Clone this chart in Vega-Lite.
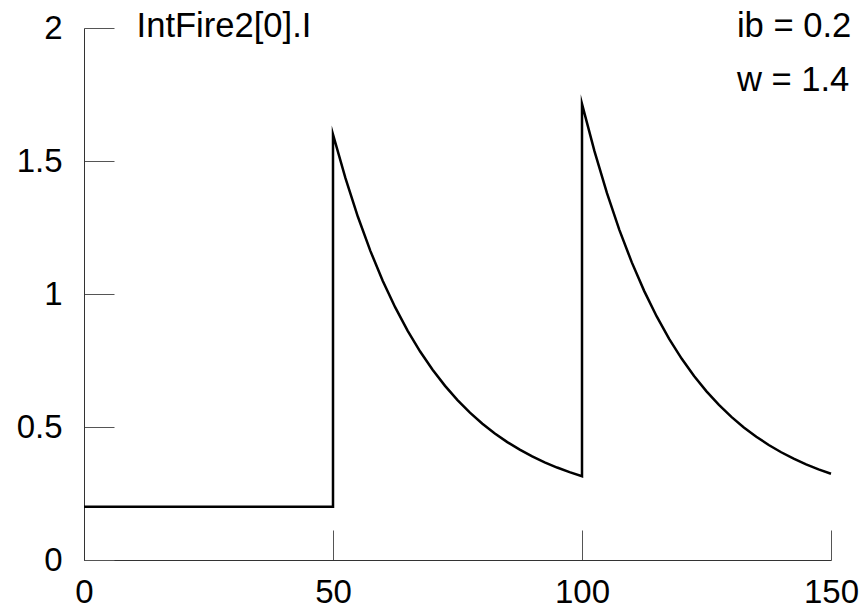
{
  "$schema": "https://vega.github.io/schema/vega-lite/v6.json",
  "autosize": "none",
  "width": 747,
  "height": 532,
  "padding": {"left": 84, "top": 28, "right": 33, "bottom": 56},
  "background": "white",
  "config": {
    "view": {"stroke": null},
    "font": "Liberation Sans",
    "axis": {
      "grid": false,
      "domainColor": "#333333",
      "domainWidth": 1,
      "tickColor": "#555555",
      "tickWidth": 1,
      "tickSize": -30,
      "labelFont": "Liberation Sans",
      "labelFontSize": 33,
      "labelColor": "black",
      "labelFlush": false,
      "labelOverlap": false,
      "title": null
    }
  },
  "layer": [
    {
      "data": {
        "values": [
          {"t": 0, "I": 0.2},
          {"t": 10, "I": 0.2},
          {"t": 20, "I": 0.2},
          {"t": 30, "I": 0.2},
          {"t": 40, "I": 0.2},
          {"t": 50, "I": 0.2},
          {"t": 50, "I": 1.6},
          {"t": 52.5, "I": 1.4355},
          {"t": 55, "I": 1.2903},
          {"t": 57.5, "I": 1.1622},
          {"t": 60, "I": 1.0491},
          {"t": 62.5, "I": 0.9494},
          {"t": 65, "I": 0.8614},
          {"t": 67.5, "I": 0.7837},
          {"t": 70, "I": 0.7151},
          {"t": 72.5, "I": 0.6546},
          {"t": 75, "I": 0.6011},
          {"t": 77.5, "I": 0.5539},
          {"t": 80, "I": 0.5123},
          {"t": 82.5, "I": 0.4757},
          {"t": 85, "I": 0.4433},
          {"t": 87.5, "I": 0.4148},
          {"t": 90, "I": 0.3894},
          {"t": 92.5, "I": 0.3672},
          {"t": 95, "I": 0.3476},
          {"t": 97.5, "I": 0.3302},
          {"t": 100, "I": 0.3149},
          {"t": 100, "I": 1.7149},
          {"t": 102.5, "I": 1.5369},
          {"t": 105, "I": 1.3798},
          {"t": 107.5, "I": 1.2412},
          {"t": 110, "I": 1.1188},
          {"t": 112.5, "I": 1.0109},
          {"t": 115, "I": 0.9156},
          {"t": 117.5, "I": 0.8316},
          {"t": 120, "I": 0.7573},
          {"t": 122.5, "I": 0.6919},
          {"t": 125, "I": 0.634},
          {"t": 127.5, "I": 0.583},
          {"t": 130, "I": 0.538},
          {"t": 132.5, "I": 0.4983},
          {"t": 135, "I": 0.4633},
          {"t": 137.5, "I": 0.4324},
          {"t": 140, "I": 0.405},
          {"t": 142.5, "I": 0.3809},
          {"t": 145, "I": 0.3597},
          {"t": 147.5, "I": 0.3409},
          {"t": 150, "I": 0.3244}
        ]
      },
      "mark": {"type": "line", "color": "black", "strokeWidth": 2.5, "strokeMiterLimit": 10, "strokeJoin": "miter", "clip": false},
      "encoding": {
        "x": {"field": "t", "type": "quantitative", "scale": {"domain": [0, 150], "nice": false, "zero": false},
          "axis": {"values": [0, 50, 100, 150], "labelPadding": 46}},
        "y": {"field": "I", "type": "quantitative", "scale": {"domain": [0, 2], "nice": false},
          "axis": {"values": [0, 0.5, 1, 1.5, 2], "format": "~g", "labelPadding": 52}},
        "order": {"field": "__index", "type": "quantitative"}
      }
    },
    {
      "data": {"values": [{"label": "IntFire2[0].I"}]},
      "mark": {"type": "text", "align": "left", "baseline": "alphabetic", "fontSize": 34.6, "font": "Liberation Sans", "fontWeight": "normal", "fill": "black"},
      "encoding": {"x": {"datum": 10.55}, "y": {"datum": 1.965}, "text": {"field": "label"}}
    },
    {
      "data": {"values": [{"label": "ib = 0.2"}]},
      "mark": {"type": "text", "align": "left", "baseline": "alphabetic", "fontSize": 34.6, "font": "Liberation Sans", "fontWeight": "normal", "fill": "black"},
      "encoding": {"x": {"datum": 131.1}, "y": {"datum": 1.965}, "text": {"field": "label"}}
    },
    {
      "data": {"values": [{"label": "w = 1.4"}]},
      "mark": {"type": "text", "align": "left", "baseline": "alphabetic", "fontSize": 34.6, "font": "Liberation Sans", "fontWeight": "normal", "fill": "black"},
      "encoding": {"x": {"datum": 131.1}, "y": {"datum": 1.764}, "text": {"field": "label"}}
    }
  ]
}
